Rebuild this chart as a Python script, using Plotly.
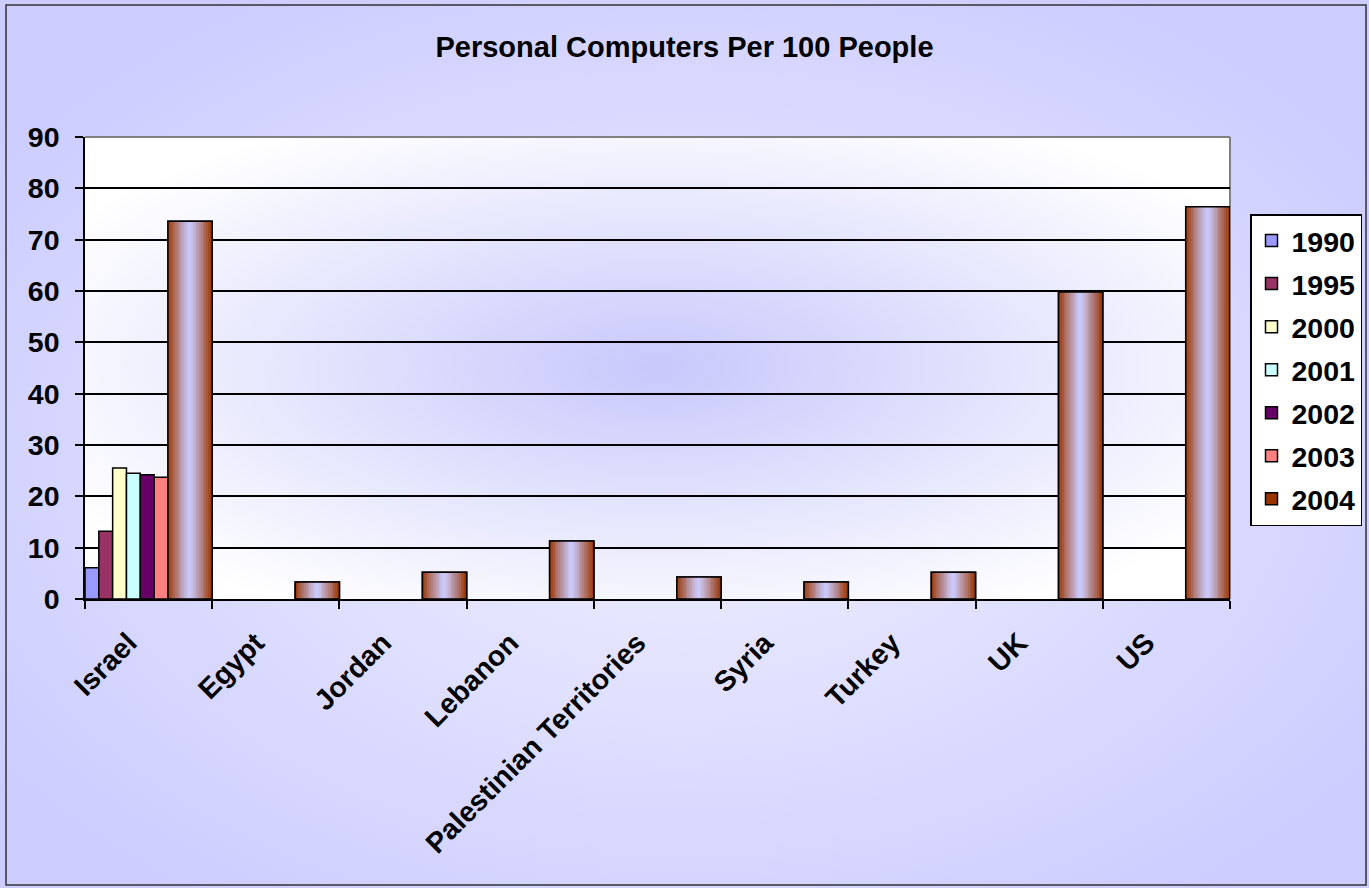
import base64
import plotly.graph_objects as go

# ---------------- data ----------------
categories = ["Israel", "Egypt", "Jordan", "Lebanon", "Palestinian Territories",
              "Syria", "Turkey", "UK", "US"]
years = ["1990", "1995", "2000", "2001", "2002", "2003", "2004"]
v1990 = [6.1, None, None, None, None, None, None, None, None]
v1995 = [13.2, None, None, None, None, None, None, None, None]
v2000 = [25.5, None, None, None, None, None, None, None, None]
v2001 = [24.5, None, None, None, None, None, None, None, None]
v2002 = [24.2, None, None, None, None, None, None, None, None]
v2003 = [23.7, None, None, None, None, None, None, None, None]
v2004 = [73.6, 3.3, 5.2, 11.3, 4.3, 3.3, 5.2, 59.8, 76.4]
y_ticks = [0, 10, 20, 30, 40, 50, 60, 70, 80, 90]
title_text = "Personal Computers Per 100 People"

# ---------------- style ----------------
colors = ["#9999ff", "#993366", "#ffffcc", "#ccffff", "#660066", "#ff8080", "#993300"]
W, H = 1369, 888
ML, MR, MT, MB = 85, 139, 137, 289
PW, PH = W - ML - MR, H - MT - MB
FAMILY = "Liberation Sans, Arial, sans-serif"
FONT = dict(family=FAMILY, size=28.5, color="black", weight="bold")
TITLE_FONT = dict(family=FAMILY, size=29, color="black", weight="bold")

small_group = 0.652
w_small = small_group / 6
w_big = 1 - small_group

fig = go.Figure()
series = [v1990, v1995, v2000, v2001, v2002, v2003]
for k, vals in enumerate(series):
    fig.add_trace(go.Bar(
        x=categories, y=vals, name=years[k], legendgroup=years[k],
        offset=-0.5 + k * w_small, width=w_small,
        marker=dict(color=colors[k], line=dict(color="black", width=1.5)),
    ))

# 2004 series: legend/base bar
big_off = -0.5 + small_group
fig.add_trace(go.Bar(
    x=categories, y=v2004, name=years[6], legendgroup=years[6],
    offset=big_off, width=w_big,
    marker=dict(color=colors[6], line=dict(color="black", width=1.5)),
))

# gradient slices (edge brown -> center lavender)
def lerp(c1, c2, t):
    return "rgb(%d,%d,%d)" % tuple(round(a + (b - a) * t) for a, b in zip(c1, c2))

edge = (0x99, 0x33, 0x00)
center = (0xcc, 0xcc, 0xff)
N = 24
sw = w_big / N
for j in range(N):
    u = (j + 0.5) / N
    d = abs(2 * u - 1)
    t = 1 - d ** 1.15
    fig.add_trace(go.Bar(
        x=categories, y=v2004, showlegend=False, hoverinfo="skip", legendgroup=years[6],
        offset=big_off + j * sw, width=sw * 1.02,
        marker=dict(color=lerp(edge, center, t), line=dict(width=0)),
    ))
# outline
fig.add_trace(go.Bar(
    x=categories, y=v2004, showlegend=False, hoverinfo="skip", legendgroup=years[6],
    offset=big_off, width=w_big,
    marker=dict(color="rgba(0,0,0,0)", line=dict(color="black", width=1.5)),
))

# ---------------- backgrounds ----------------
def svg_uri(svg):
    return "data:image/svg+xml;base64," + base64.b64encode(svg.encode()).decode()

paper_svg = f'''<svg xmlns="http://www.w3.org/2000/svg" width="{W}" height="{H}" viewBox="0 0 {W} {H}" preserveAspectRatio="none">
<defs><radialGradient id="g" cx="0.5" cy="0.52" r="0.62">
<stop offset="0" stop-color="#f0f0ff"/><stop offset="1" stop-color="#ccccff"/></radialGradient></defs>
<rect width="{W}" height="{H}" fill="url(#g)"/></svg>'''

plot_svg = f'''<svg xmlns="http://www.w3.org/2000/svg" width="{PW}" height="{PH}" viewBox="0 0 {PW} {PH}" preserveAspectRatio="none">
<defs><radialGradient id="g" cx="0.5" cy="0.5" r="0.6">
<stop offset="0" stop-color="#c8c8fc"/><stop offset="1" stop-color="#ffffff"/></radialGradient></defs>
<rect width="{PW}" height="{PH}" fill="url(#g)"/></svg>'''

def px_x(p):
    return (p - ML) / PW

def px_y(p):
    return 1 - (p - MT) / PH

images = [
    dict(source=svg_uri(paper_svg), xref="paper", yref="paper", x=px_x(0), y=px_y(0),
         sizex=W / PW, sizey=H / PH, xanchor="left", yanchor="top", sizing="stretch", layer="below"),
    dict(source=svg_uri(plot_svg), xref="paper", yref="paper", x=0, y=1,
         sizex=1, sizey=1, xanchor="left", yanchor="top", sizing="stretch", layer="below"),
]

shapes = [
    dict(type="rect", xref="paper", yref="paper", x0=px_x(6), x1=px_x(1366), y0=px_y(885), y1=px_y(5),
         line=dict(color="#333333", width=1.5), fillcolor="rgba(0,0,0,0)", layer="above"),
    dict(type="line", xref="paper", yref="paper", x0=0, x1=1, y0=1, y1=1,
         line=dict(color="#808080", width=2), layer="above"),
    dict(type="line", xref="paper", yref="paper", x0=1, x1=1, y0=0, y1=1,
         line=dict(color="#808080", width=2), layer="below"),
]

fig.update_layout(
    width=W, height=H,
    margin=dict(l=ML, r=MR, t=MT, b=MB, pad=0, autoexpand=False),
    paper_bgcolor="#ccccff",
    plot_bgcolor="rgba(0,0,0,0)",
    barmode="overlay",
    font=FONT,
    title=dict(text=title_text, x=0.5, xref="container", xanchor="center",
               y=1 - 47 / H, yref="container", yanchor="middle", font=TITLE_FONT),
    xaxis=dict(type="category", categoryorder="array", categoryarray=categories,
               range=[-0.5, 8.5], tickson="boundaries", ticks="outside", ticklen=8,
               tickcolor="black", tickwidth=1.5, showline=True, linecolor="black", linewidth=1.5,
               showgrid=False, tickangle=-45, tickfont=FONT,
               ticklabelstandoff=14, ticklabelshift=-20),
    yaxis=dict(range=[0, 90], tickvals=y_ticks, ticks="outside", ticklen=8, tickcolor="black",
               tickwidth=1.5, showline=True, linecolor="black", linewidth=1.5,
               showgrid=True, gridcolor="black", gridwidth=1.5, zeroline=False,
               tickfont=FONT, ticklabelstandoff=10),
    legend=dict(x=px_x(1250), y=px_y(214), xanchor="left", yanchor="top",
                bgcolor="white", bordercolor="black", borderwidth=1.5,
                font=FONT, tracegroupgap=3, itemwidth=30, traceorder="grouped"),
    images=images,
    shapes=shapes,
    showlegend=True,
)

fig.write_html("out.html", config={"displayModeBar": False},
               post_script="document.body.style.margin='0';document.body.style.overflow='hidden';")
